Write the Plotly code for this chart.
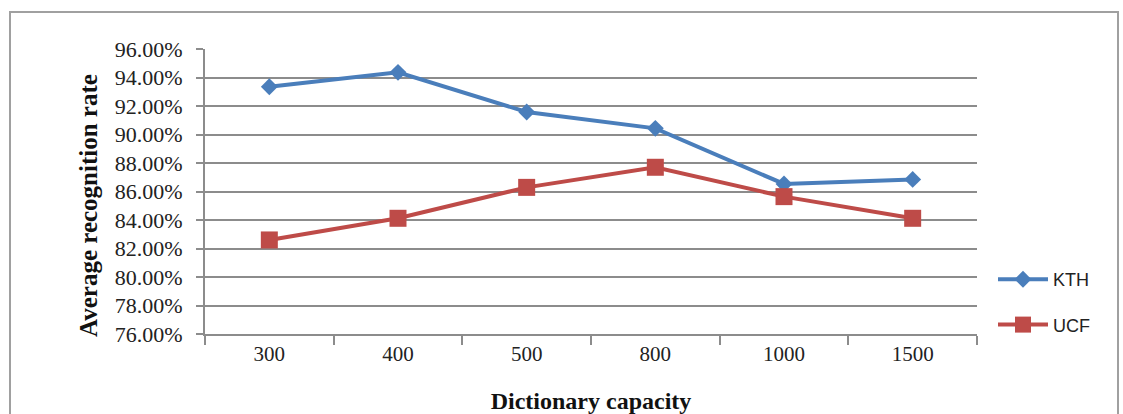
import plotly.graph_objects as go

categories = ["300", "400", "500", "800", "1000", "1500"]
kth = [93.35, 94.36, 91.58, 90.43, 86.53, 86.85]
ucf = [82.60, 84.12, 86.29, 87.70, 85.64, 84.12]
y_ticks = [76, 78, 80, 82, 84, 86, 88, 90, 92, 94, 96]
y_tick_text = [f"{v:.2f}%" for v in y_ticks]

W, H = 1123, 414
L, R, T, B = 205, 146, 49, 80
pw, ph = W - L - R, H - T - B

def px_x(p):
    return (p - L) / pw

def px_y(p):
    return (H - B - p) / ph

fig = go.Figure()
fig.add_trace(go.Scatter(
    x=categories, y=kth, name="KTH", mode="lines+markers", legendgroup="a",
    line=dict(color="#4A7EBB", width=4),
    marker=dict(symbol="diamond", size=13, color="#4A7EBB"),
))
fig.add_trace(go.Scatter(
    x=categories, y=ucf, name="UCF", mode="lines+markers", legendgroup="b",
    line=dict(color="#BE4B48", width=4),
    marker=dict(symbol="square", size=17, color="#BE4B48"),
))

grid = "#8C8C8C"
fig.update_layout(
    width=W, height=H,
    margin=dict(l=L, r=R, t=T, b=B, autoexpand=False),
    paper_bgcolor="white", plot_bgcolor="white",
    showlegend=True,
    legend=dict(
        x=px_x(993), y=px_y(261), xanchor="left", yanchor="top",
        font=dict(family="Liberation Sans", size=18, color="#222222"),
        traceorder="grouped", tracegroupgap=19, itemwidth=50,
        bgcolor="rgba(0,0,0,0)",
    ),
    xaxis=dict(
        type="category", range=[-0.5, 5.5],
        showgrid=False, showline=True, linecolor=grid, linewidth=2,
        ticks="outside", tickson="boundaries", ticklen=9, tickwidth=2, tickcolor=grid,
        tickfont=dict(family="Liberation Serif", size=21, color="#222222"),
        title=dict(text="<b>Dictionary capacity</b>", standoff=27,
                   font=dict(family="Liberation Serif", size=24, color="#111111")),
    ),
    yaxis=dict(
        range=[76, 96], tickvals=y_ticks, ticktext=y_tick_text,
        showgrid=True, gridcolor=grid, gridwidth=2,
        showline=True, linecolor=grid, linewidth=2,
        ticks="outside", ticklen=7, tickwidth=2, tickcolor=grid,
        ticklabelstandoff=9,
        tickfont=dict(family="Liberation Serif", size=22, color="#222222"),
        zeroline=False,
    ),
    annotations=[dict(
        text="<b>Average recognition rate</b>", textangle=-90,
        xref="paper", yref="paper", x=px_x(89), y=px_y(206),
        xanchor="center", yanchor="middle", showarrow=False,
        font=dict(family="Liberation Serif", size=25, color="#111111"),
    )],
    shapes=[dict(
        type="rect", xref="paper", yref="paper",
        x0=px_x(10), x1=px_x(1118), y0=px_y(430), y1=px_y(12),
        line=dict(color="#A0A0A0", width=2), fillcolor="rgba(0,0,0,0)", layer="below",
    )],
)

fig.write_html(
    "out.html",
    config={"displayModeBar": False},
    post_script="document.body.style.margin='0';document.body.style.overflow='hidden';",
)
